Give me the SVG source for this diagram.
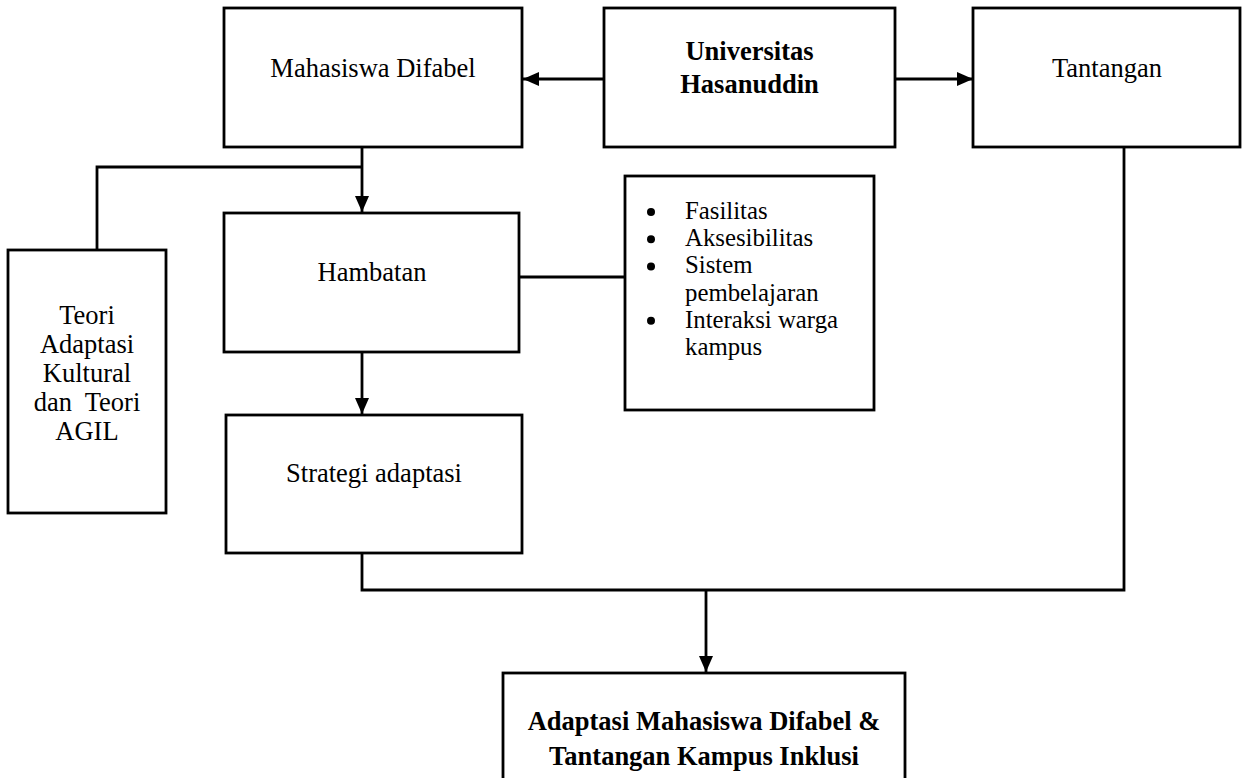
<svg xmlns="http://www.w3.org/2000/svg" width="1248" height="778" viewBox="0 0 1248 778">
  <style>
    .box { fill: #ffffff; stroke: #000000; stroke-width: 2.8; }
    .t { font-family: "Liberation Serif", "Times New Roman", serif; font-size: 26.5px; fill: #000000; }
    .s { font-size: 24.8px; }
    .c { text-anchor: middle; }
    .b { font-weight: bold; }
    .line { fill: none; stroke: #000000; stroke-width: 2.8; }
  </style>
  <defs>
    <marker id="arrow" markerUnits="userSpaceOnUse" markerWidth="16" markerHeight="14" refX="16" refY="7" orient="auto">
      <path d="M0,0 L16,7 L0,14 z" fill="#000000"/>
    </marker>
  </defs>
  <rect width="1248" height="778" fill="#ffffff"/>

  <g id="connectors">
    <line class="line" x1="604" y1="79" x2="523" y2="79" marker-end="url(#arrow)"/>
    <line class="line" x1="895" y1="79" x2="973" y2="79" marker-end="url(#arrow)"/>
    <line class="line" x1="362" y1="147" x2="362" y2="212" marker-end="url(#arrow)"/>
    <polyline class="line" points="97,250 97,167 362,167"/>
    <line class="line" x1="519" y1="277" x2="625" y2="277"/>
    <line class="line" x1="362" y1="352" x2="362" y2="414" marker-end="url(#arrow)"/>
    <polyline class="line" points="362,553 362,590 1124,590 1124,147"/>
    <line class="line" x1="706" y1="590" x2="706" y2="672" marker-end="url(#arrow)"/>
  </g>

  <g id="mahasiswa">
    <rect class="box" x="224" y="8" width="298" height="139"/>
    <text class="t c" x="373" y="77">Mahasiswa Difabel</text>
  </g>

  <g id="universitas">
    <rect class="box" x="604" y="8" width="291" height="139"/>
    <text class="t c b" x="749.5" y="60">Universitas</text>
    <text class="t c b" x="749.5" y="93">Hasanuddin</text>
  </g>

  <g id="tantangan">
    <rect class="box" x="973" y="8" width="267" height="139"/>
    <text class="t c" x="1107" y="77">Tantangan</text>
  </g>

  <g id="teori">
    <rect class="box" x="8" y="250" width="158" height="263"/>
    <text class="t c" x="87" y="324">Teori</text>
    <text class="t c" x="87" y="353">Adaptasi</text>
    <text class="t c" x="87" y="382">Kultural</text>
    <text class="t c" x="87" y="411" xml:space="preserve">dan  Teori</text>
    <text class="t c" x="87" y="440">AGIL</text>
  </g>

  <g id="hambatan">
    <rect class="box" x="224" y="213" width="295" height="139"/>
    <text class="t c" x="372" y="281">Hambatan</text>
  </g>

  <g id="faktor">
    <rect class="box" x="625" y="176" width="249" height="234"/>
    <circle cx="651" cy="212" r="4"/>
    <circle cx="651" cy="239.2" r="4"/>
    <circle cx="651" cy="266.4" r="4"/>
    <circle cx="651" cy="320.8" r="4"/>
    <text class="t s" x="685" y="219">Fasilitas</text>
    <text class="t s" x="685" y="246.2">Aksesibilitas</text>
    <text class="t s" x="685" y="273.4">Sistem</text>
    <text class="t s" x="685" y="300.6">pembelajaran</text>
    <text class="t s" x="685" y="327.8">Interaksi warga</text>
    <text class="t s" x="685" y="355">kampus</text>
  </g>

  <g id="strategi">
    <rect class="box" x="226" y="415" width="296" height="138"/>
    <text class="t c" x="374" y="482">Strategi adaptasi</text>
  </g>

  <g id="hasil">
    <rect class="box" x="503" y="673" width="402" height="120"/>
    <text class="t c b" x="704" y="730">Adaptasi Mahasiswa Difabel &amp;</text>
    <text class="t c b" x="704" y="765">Tantangan Kampus Inklusi</text>
  </g>
</svg>
